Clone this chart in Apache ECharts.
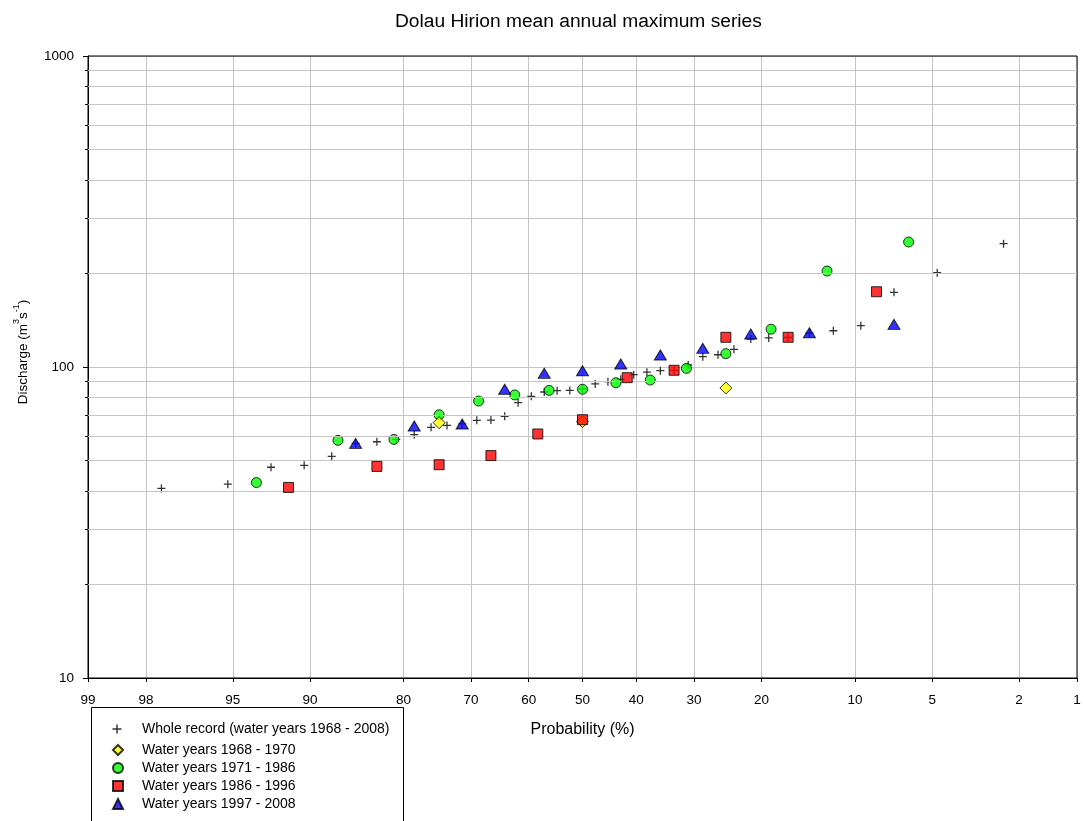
<!DOCTYPE html>
<html><head><meta charset="utf-8">
<script src="https://cdn.jsdelivr.net/npm/echarts@6/dist/echarts.min.js"></script>
<style>html,body{margin:0;padding:0;background:#fff}#c{width:1085px;height:821px}</style>
</head><body><div id="c"></div>
<script>
// ---- data ----
const titleText = 'Dolau Hirion mean annual maximum series';
const xTickLabels = [99, 98, 95, 90, 80, 70, 60, 50, 40, 30, 20, 10, 5, 2, 1];
const yMinorValues = [20, 30, 40, 50, 60, 70, 80, 90, 200, 300, 400, 500, 600, 700, 800, 900];
const seriesNames = [
  'Whole record (water years 1968 - 2008)',
  'Water years 1968 - 1970',
  'Water years 1971 - 1986',
  'Water years 1986 - 1996',
  'Water years 1997 - 2008'
];
// exceedance probability (%) and discharge (m3/s)
const wholeProb = [97.62, 95.24, 92.86, 90.48, 88.10, 85.71, 83.33, 80.95, 78.57, 76.19, 73.81, 71.43, 69.05, 66.67, 64.29, 61.90, 59.52, 57.14, 54.76, 52.38, 50.00, 47.62, 45.24, 42.86, 40.48, 38.10, 35.71, 33.33, 30.95, 28.57, 26.19, 23.81, 21.43, 19.05, 16.67, 14.29, 11.90, 9.52, 7.14, 4.76, 2.38];
const wholeQ    = [40.7, 42.0, 47.6, 48.3, 51.6, 56.8, 57.5, 58.5, 60.6, 64.0, 64.9, 65.6, 67.4, 67.5, 69.4, 76.8, 80.5, 83.1, 83.9, 84.1, 85.0, 88.2, 89.7, 91.3, 94.5, 96.2, 97.3, 97.6, 101.5, 107.9, 109.5, 114.0, 123.0, 124.0, 124.6, 128.5, 130.8, 135.8, 173.8, 201.0, 249.2];
const wy6870Prob = [75, 50, 25];
const wy6870Q    = [66.2, 66.8, 85.6];
const wy7186Prob = [93.75, 87.5, 81.25, 75, 68.75, 62.5, 56.25, 50, 43.75, 37.5, 31.25, 25, 18.75, 12.5, 6.25];
const wy7186Q    = [42.5, 58.1, 58.5, 70.2, 77.7, 81.3, 84.1, 84.8, 89.0, 90.8, 99.0, 110.4, 132.3, 203.5, 252.3];
const wy8696Prob = [91.67, 83.33, 75, 66.67, 58.33, 50, 41.67, 33.33, 25, 16.67, 8.33];
const wy8696Q    = [41.0, 47.9, 48.5, 51.9, 60.9, 67.7, 92.4, 97.6, 124.6, 124.6, 174.6];
const wy9708Prob = [85.71, 78.57, 71.43, 64.29, 57.14, 50, 42.86, 35.71, 28.57, 21.43, 14.29, 7.14];
const wy9708Q    = [56.8, 64.6, 65.6, 84.8, 95.4, 97.3, 102.2, 109.3, 114.8, 127.7, 128.9, 137.1];

// ---- normal probability scale (inverse normal CDF, Acklam) ----
function probit(p) {
  const a=[-3.969683028665376e+01,2.209460984245205e+02,-2.759285104469687e+02,1.383577518672690e+02,-3.066479806614716e+01,2.506628277459239e+00];
  const b=[-5.447609879822406e+01,1.615858368580409e+02,-1.556989798598866e+02,6.680131188771972e+01,-1.328068155288572e+01];
  const c=[-7.784894002430293e-03,-3.223964580411365e-01,-2.400758277161838e+00,-2.549671348283812e+00,4.374664141464968e+00,2.938163982698783e+00];
  const d=[7.784695709041462e-03,3.224671290700398e-01,2.445134137142996e+00,3.754408661907416e+00];
  const pl=0.02425, ph=1-pl; let q, r;
  if (p < pl) { q=Math.sqrt(-2*Math.log(p)); return (((((c[0]*q+c[1])*q+c[2])*q+c[3])*q+c[4])*q+c[5])/((((d[0]*q+d[1])*q+d[2])*q+d[3])*q+1); }
  if (p <= ph) { q=p-0.5; r=q*q; return (((((a[0]*r+a[1])*r+a[2])*r+a[3])*r+a[4])*r+a[5])*q/(((((b[0]*r+b[1])*r+b[2])*r+b[3])*r+b[4])*r+1); }
  q=Math.sqrt(-2*Math.log(1-p)); return -(((((c[0]*q+c[1])*q+c[2])*q+c[3])*q+c[4])*q+c[5])/((((d[0]*q+d[1])*q+d[2])*q+d[3])*q+1);
}
const toX = pct => probit(1 - pct / 100);
const xTickZ = xTickLabels.map(toX);
const xMin = toX(99), xMax = toX(1);
const pairs = (ps, qs) => ps.map((p, i) => [toX(p), qs[i]]);

const FONT = "'Liberation Sans', Arial, sans-serif";
const crossPath = 'path://M0,4.2H10V5.8H0Z M4.2,0H5.8V10H4.2Z';
const border = { borderColor: '#000', borderWidth: 1 };
const GRID_GRAY = '#c4c4c4';

const chart = echarts.init(document.getElementById('c'), null, { renderer: 'canvas' });
chart.setOption({
  animation: false,
  backgroundColor: '#fff',
  textStyle: { fontFamily: FONT, color: '#000' },
  title: {
    text: titleText, left: 390, top: 7,
    textStyle: { fontFamily: FONT, fontSize: 19.2, fontWeight: 'normal', color: '#000' }
  },
  grid: { left: 88, right: 8, top: 56, bottom: 143, show: true, borderColor: '#000', borderWidth: 1, backgroundColor: 'transparent', z: 3 },
  xAxis: {
    type: 'value', min: xMin, max: xMax,
    name: 'Probability (%)', nameLocation: 'middle', nameGap: 44,
    nameTextStyle: { fontFamily: FONT, fontSize: 16, color: '#000' },
    axisLine: { show: true, onZero: false, lineStyle: { color: '#000', width: 1 } },
    axisTick: { show: true, inside: false, length: 4, customValues: xTickZ, lineStyle: { color: '#000' } },
    axisLabel: {
      customValues: xTickZ, margin: 15, fontFamily: FONT, fontSize: 13.5, color: '#000',
      formatter: v => { let best = 0; xTickZ.forEach((z, i) => { if (Math.abs(z - v) < Math.abs(xTickZ[best] - v)) best = i; }); return String(xTickLabels[best]); }
    },
    splitLine: { show: true, lineStyle: { color: GRID_GRAY, width: 1 } }
  },
  yAxis: [{
    type: 'log', logBase: 10, min: 10, max: 1000,
    name: '{a|Discharge (m}{s|3}{a|s}{s|-1}{a|)}', nameLocation: 'middle', nameGap: 58, nameRotate: 90,
    nameTextStyle: {
      padding: [0, 0, 0, 30],
      rich: {
        a: { fontFamily: FONT, fontSize: 13.5, color: '#000', lineHeight: 18, verticalAlign: 'bottom' },
        s: { fontFamily: FONT, fontSize: 9, color: '#000', lineHeight: 18, verticalAlign: 'top' }
      }
    },
    axisLine: { show: true, onZero: false, lineStyle: { color: '#000', width: 1 } },
    axisTick: { show: true, inside: false, length: 5, lineStyle: { color: '#000' } },
    axisLabel: { margin: 14, fontFamily: FONT, fontSize: 13.5, color: '#000', formatter: v => String(Math.round(v)) },
    splitLine: { show: true, lineStyle: { color: GRID_GRAY, width: 1 } }
  }, {
    type: 'value', min: 1, max: 3, position: 'left',
    axisLine: { show: false, onZero: false },
    axisTick: { show: true, inside: false, length: 3, customValues: yMinorValues.map(Math.log10), lineStyle: { color: '#000' } },
    axisLabel: { show: false },
    splitLine: { show: false }
  }],
  legend: [{
    data: [seriesNames[0]], orient: 'vertical', left: 112.5, top: 722, padding: 0,
    itemWidth: 9, itemHeight: 9, selectedMode: false,
    textStyle: { fontFamily: FONT, fontSize: 14, color: '#000', lineHeight: 14, padding: [0, 0, 0, 15.5] }
  }, {
    data: seriesNames.slice(1), orient: 'vertical', left: 112, top: 743, padding: 0,
    itemWidth: 10, itemHeight: 10, itemGap: 4, selectedMode: false,
    textStyle: { fontFamily: FONT, fontSize: 14, color: '#000', lineHeight: 14, padding: [0, 0, 0, 14] }
  }],
  graphic: [{
    type: 'rect', z: 1, silent: true,
    shape: { x: 91.5, y: 707.5, width: 312, height: 130 },
    style: { fill: '#fff', stroke: '#000', lineWidth: 1 }
  }],
  series: [{
    type: 'scatter', name: '__grid', data: [], z: 1, silent: true,
    markLine: {
      silent: true, symbol: ['none', 'none'], label: { show: false }, animation: false,
      emphasis: { disabled: true },
      lineStyle: { color: GRID_GRAY, type: 'solid', width: 1 },
      data: yMinorValues.map(v => ({ yAxis: v }))
    }
  }, {
    type: 'scatter', name: seriesNames[0], z: 2, data: pairs(wholeProb, wholeQ),
    symbol: crossPath, symbolSize: 8, itemStyle: { color: '#000' }
  }, {
    type: 'scatter', name: seriesNames[2], z: 3, data: pairs(wy7186Prob, wy7186Q),
    symbol: 'circle', symbolSize: 10, itemStyle: Object.assign({ color: '#00ff00' }, border)
  }, {
    type: 'scatter', name: seriesNames[1], z: 4, data: pairs(wy6870Prob, wy6870Q),
    symbol: 'diamond', symbolSize: 12, itemStyle: Object.assign({ color: '#ffff00' }, border)
  }, {
    type: 'scatter', name: seriesNames[3], z: 5, data: pairs(wy8696Prob, wy8696Q),
    symbol: 'rect', symbolSize: 10, itemStyle: Object.assign({ color: '#ff0000' }, border)
  }, {
    type: 'scatter', name: seriesNames[4], z: 6, data: pairs(wy9708Prob, wy9708Q),
    symbol: 'triangle', symbolSize: [12, 10], itemStyle: Object.assign({ color: '#0000ff' }, border)
  }]
});
</script></body></html>
